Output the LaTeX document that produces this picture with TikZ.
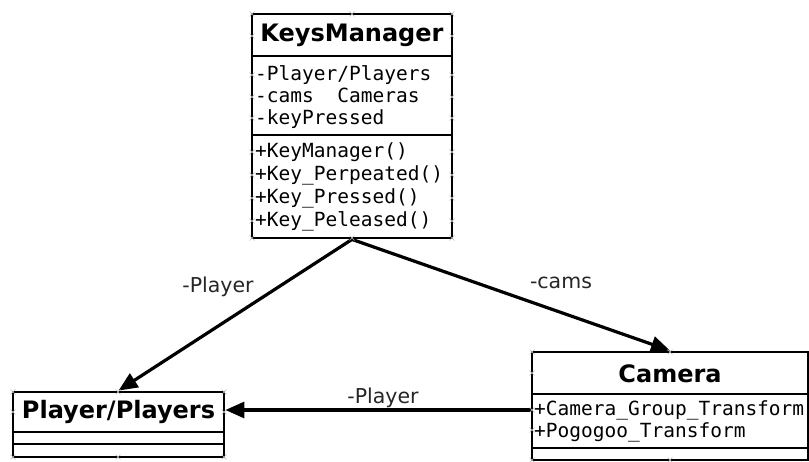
\documentclass[tikz,border=0pt]{standalone}
\usepackage{fontspec}
\setmainfont{DejaVu Sans}
\newfontfamily\monofont{DejaVu Sans Mono}
\usetikzlibrary{arrows.meta}

\tikzset{
  classbox/.style={draw=black, line width=2.8pt, fill=white, inner sep=0pt},
  sepline/.style={draw=black, line width=2.8pt},
  hdr/.style={font=\fontsize{24}{28}\selectfont\bfseries, inner sep=0pt, anchor=base},
  member/.style={font=\monofont\fontsize{19.5}{23}\selectfont, inner sep=0pt, anchor=base west},
  rolelabel/.style={font=\fontsize{20.5}{24}\selectfont, text=black!85, inner sep=0pt, anchor=base},
  assoc/.style={draw=black, line width=3.2pt, -{Triangle[length=19pt,width=16pt]}},
  cpt/.pic={\draw[gray!55, line width=0.6pt] (-2.5,-2.5) -- (2.5,2.5) (-2.5,2.5) -- (2.5,-2.5);}
}

\begin{document}
\begin{tikzpicture}[x=1pt, y=-1pt]
\useasboundingbox[fill=white] (0,0) rectangle (809,462);

% ---- KeysManager ----
\node[classbox, minimum width=200pt, minimum height=224pt] (km) at (352,126) {};
\draw[sepline] (252,56) -- (452,56);
\draw[sepline] (252,135) -- (452,135);
\node[hdr] (kmtitle) at (352,42) {KeysManager};
\node[member] (kma1) at (255,81) {-Player/Players};
\node[member] (kma2) at (255,103) {-cams\ \ Cameras};
\node[member] (kma3) at (255,125) {-keyPressed};
\node[member] (kmo1) at (255,158) {+KeyManager()};
\node[member] (kmo2) at (255,181) {+Key\_Perpeated()};
\node[member] (kmo3) at (255,204) {+Key\_Pressed()};
\node[member] (kmo4) at (255,227) {+Key\_Peleased()};

% ---- Player/Players ----
\node[classbox, minimum width=211pt, minimum height=65pt] (pl) at (118.5,424.5) {};
\draw[sepline] (13,432) -- (224,432);
\draw[sepline] (13,444) -- (224,444);
\node[hdr] (pltitle) at (118.5,418) {Player/Players};

% ---- Camera ----
\node[classbox, minimum width=276pt, minimum height=108pt] (cam) at (670,406) {};
\draw[sepline] (532,394) -- (808,394);
\draw[sepline] (532,448) -- (808,448);
\node[hdr] (camtitle) at (670,383) {Camera};
\node[member] (cama1) at (534,416) {+Camera\_Group\_Transform};
\node[member] (cama2) at (534,437) {+Pogogoo\_Transform};

% ---- associations ----
\coordinate (camlink) at (532,410);
\draw[assoc] (km.south) -- (pl.north);
\draw[assoc] (km.south) -- (cam.north);
\draw[assoc] (camlink) -- (camlink -| pl.east);

\node[rolelabel] (lplayer1) at (218,293) {-Player};
\node[rolelabel] (lcams) at (561,289) {-cams};
\node[rolelabel] (lplayer2) at (383,403) {-Player};

% ---- connection point markers ----
\foreach \p in {(252,14),(352,14),(452,14),(252,238),(352,238),(452,238),
  (252,36),(452,36),(252,75),(452,75),(252,97),(452,97),(252,118),(452,118),
  (252,152),(452,152),(252,175),(452,175),(252,198),(452,198),(252,221),(452,221),
  (13,392),(118,392),(224,392),(13,412),(224,412),(13,457),(118,457),(224,457),
  (532,352),(670,352),(532,373),(532,410),(532,430),(532,460),(670,460)}
  \pic at \p {cpt};
\end{tikzpicture}
\end{document}
